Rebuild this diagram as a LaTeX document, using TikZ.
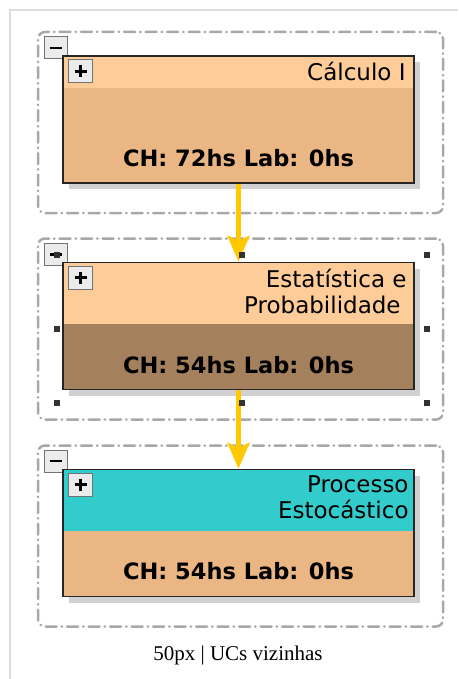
\documentclass[tikz,border=0pt]{standalone}
\usepackage{fontspec}
\setmainfont{DejaVu Sans}
\newfontfamily\captionfont{Liberation Serif}
\usetikzlibrary{arrows.meta,shadows,positioning}
\definecolor{ucheader}{RGB}{254,204,153}
\definecolor{ucbody}{RGB}{234,182,131}
\definecolor{ucdark}{RGB}{164,128,93}
\definecolor{uccyan}{RGB}{51,204,204}
\definecolor{linkyellow}{RGB}{255,200,0}
\definecolor{groupgray}{RGB}{168,168,168}
\definecolor{framegray}{RGB}{221,221,221}

\tikzset{
  grpbox/.style={draw=groupgray, line width=2.5pt, rounded corners=7pt, minimum width=405pt, minimum height=181pt, dash pattern=on 11pt off 5pt on 0.5pt off 5pt, line cap=round},
  ucbox/.style n args={3}{draw=black!85, line width=1.5pt, fill=#2, minimum width=351pt, minimum height=127pt, inner sep=0pt,
    drop shadow={shadow xshift=6pt, shadow yshift=-6pt, fill=black!18, opacity=1},
    path picture={\fill[#1] (path picture bounding box.north west) rectangle ([yshift=-#3]path picture bounding box.north east);}},
  btnbox/.style={draw=black!55, fill=black!8, line width=1pt, inner sep=0pt},
  minusbtn/.style={btnbox, minimum width=23pt, minimum height=22pt,
    path picture={\draw[black, line width=2.8pt] ([xshift=-6pt]path picture bounding box.center) -- ([xshift=6pt]path picture bounding box.center);}},
  plusbtn/.style={btnbox, minimum width=24pt, minimum height=23pt,
    path picture={\draw[black, line width=2.6pt] ([xshift=-6pt]path picture bounding box.center) -- ([xshift=6pt]path picture bounding box.center);
                  \draw[black, line width=2.6pt] ([yshift=-6pt]path picture bounding box.center) -- ([yshift=6pt]path picture bounding box.center);}},
  uctitle/.style={anchor=north east, inner sep=0pt, align=right, font=\fontsize{23}{26}\selectfont},
  ucload/.style={anchor=base, inner sep=0pt, font=\bfseries\fontsize{22.5}{26}\selectfont},
  flowarrow/.style={draw=linkyellow, line width=4.5pt, -{Stealth[length=26pt, width=22pt, inset=5pt]}},
  handle/.style={fill=black!80, minimum size=6pt, inner sep=0pt}
}

\begin{document}
\begin{tikzpicture}[x=1pt, y=-1pt]
	\useasboundingbox (0,0) rectangle (458,679);
	\draw[framegray, line width=1.5pt] (10,679) -- (10,10) -- (458,10);
	
	% Group frames
	\node[grpbox] (grp1) at (240.5,122.5) {};
	\node[grpbox] (grp2) at (240.5,329) {};
	\node[grpbox] (grp3) at (240.5,536) {};
	
	% Collapse buttons
	\node[minusbtn] (min1) at (55.5,48) {};
	\node[minusbtn] (min2) at (55.5,254.5) {};
	\node[minusbtn] (min3) at (55.5,461) {};
	
	% Course units
	\node[ucbox={ucheader}{ucbody}{32pt}] (uc1) at (238.5,119.5) {};
	\node[ucbox={ucheader}{ucdark}{61pt}] (uc2) at (238.5,326) {};
	\node[ucbox={uccyan}{ucbody}{61pt}] (uc3) at (238.5,533) {};
	
	% Expand buttons
	\node[plusbtn, anchor=north west] (plus1) at ([xshift=6pt,yshift=-4pt]uc1.north west) {};
	\node[plusbtn, anchor=north west] (plus2) at ([xshift=6pt,yshift=-4pt]uc2.north west) {};
	\node[plusbtn, anchor=north west] (plus3) at ([xshift=6pt,yshift=-4pt]uc3.north west) {};
	
	% Titles and loads
	\node[uctitle] (title1) at ([xshift=-9pt,yshift=-7pt]uc1.north east) {Cálculo I};
	\node[uctitle] (title2) at ([xshift=-8pt,yshift=-7pt]uc2.north east) {Estatística e\\Probabilidade\hspace*{6pt}};
	\node[uctitle] (title3) at ([xshift=-6pt,yshift=-7pt]uc3.north east) {Processo\\Estocástico};
	\node[ucload] (load1) at ([yshift=17pt]uc1.south) {CH: 72hs Lab: 0hs};
	\node[ucload] (load2) at ([yshift=17pt]uc2.south) {CH: 54hs Lab: 0hs};
	\node[ucload] (load3) at ([yshift=18pt]uc3.south) {CH: 54hs Lab: 0hs};
	
	% Connections
	\draw[flowarrow] (uc1) -- (uc2);
	\draw[flowarrow] (uc2) -- (uc3);
	
	% Selection handles
	\foreach \x/\y [count=\i] in {57/255, 242/255, 427/255, 57/329, 427/329, 57/403, 242/403, 427/403}
		\node[handle] (hd\i) at (\x,\y) {};
	
	\node[font=\captionfont\fontsize{21}{24}\selectfont, anchor=base] (caption) at (238,660) {50px | UCs vizinhas};
\end{tikzpicture}
\end{document}
